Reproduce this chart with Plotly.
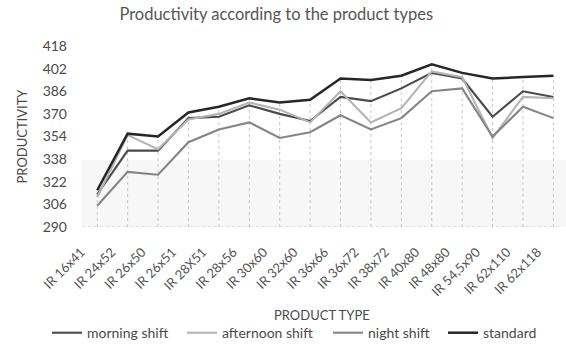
import plotly.graph_objects as go

# Product types along the horizontal axis
products = ["IR 16x41", "IR 24x52", "IR 26x50", "IR 26x51", "IR 28X51", "IR 28x56",
            "IR 30x60", "IR 32x60", "IR 36x66", "IR 36x72", "IR 38x72", "IR 40x80",
            "IR 48x80", "IR 54,5x90", "IR 62x110", "IR 62x118"]

# Productivity per shift and the standard
morning_shift = [313, 344, 344, 367, 368, 376, 370, 365, 382, 379, 388, 399, 395, 368, 386, 382]
afternoon_shift = [311, 355, 345, 366, 370, 378, 373, 364, 386, 364, 374, 400, 396, 353, 382, 381]
night_shift = [305, 329, 327, 350, 359, 364, 353, 357, 369, 359, 367, 386, 388, 354, 375, 367]
standard = [316, 356, 354, 371, 375, 381, 378, 380, 395, 394, 397, 405, 399, 395, 396, 397]

y_ticks = [290, 306, 322, 338, 354, 370, 386, 402, 418]

FONT = "Lato"
idx = list(range(len(products)))

fig = go.Figure()

# Drop lines from the highest value of each product down to the axis
drop_x, drop_y = [], []
for i in idx:
    top = max(morning_shift[i], afternoon_shift[i], night_shift[i], standard[i])
    drop_x += [i, i, None]
    drop_y += [y_ticks[0], top, None]
fig.add_trace(go.Scatter(x=drop_x, y=drop_y, mode="lines",
                         line=dict(color="#c8c8c8", width=1, dash="dot"),
                         showlegend=False, hoverinfo="skip"))

# One legend per series so the entries are spaced along the bottom
series = [
    ("morning shift", morning_shift, "#4a4a4a", 2.1, "legend", 47),
    ("afternoon shift", afternoon_shift, "#b4b4b4", 2.1, "legend2", 182),
    ("night shift", night_shift, "#858585", 2.1, "legend3", 328),
    ("standard", standard, "#262626", 2.5, "legend4", 443),
]
legend_layout = {}
for name, vals, color, w, leg, lx in series:
    fig.add_trace(go.Scatter(x=idx, y=vals, mode="lines", name=name,
                             line=dict(color=color, width=w), legend=leg))
    legend_layout[leg] = dict(orientation="h", x=lx / 566, xref="container", xanchor="left",
                              y=0.04, yref="container", yanchor="middle",
                              font=dict(family=FONT, size=14, color="#4a4a4a"),
                              itemwidth=30, bgcolor="rgba(0,0,0,0)")

fig.update_layout(
    width=566, height=347,
    margin=dict(l=82, r=5, t=46, b=120),
    paper_bgcolor="white", plot_bgcolor="white",
    font=dict(family=FONT, color="#4a4a4a", size=12),
    title=dict(text="Productivity according to the product types",
               x=0.488, xref="container", y=0.96, yref="container",
               xanchor="center", yanchor="middle",
               font=dict(family=FONT, size=16.5, color="#555555")),
    showlegend=True,
    **legend_layout,
)

# Faint grey band across the lower part of the plotting area
fig.add_shape(type="rect", xref="paper", yref="paper", x0=0, x1=1.02, y0=0, y1=0.37,
              fillcolor="#f7f7f7", line=dict(width=0), layer="below")

# Category axis title placed below the rotated tick labels
fig.add_annotation(text="PRODUCT TYPE", xref="paper", yref="paper", x=0.5, y=-0.486,
                   xanchor="center", yanchor="middle", showarrow=False,
                   font=dict(family=FONT, size=13, color="#4a4a4a"))

fig.update_xaxes(
    range=[-0.5, 15.25], automargin=False,
    tickvals=idx, ticktext=products, tickangle=-45,
    tickfont=dict(family=FONT, size=13, color="#555555"),
    ticklabelshift=-16, ticklabelstandoff=14,
    showgrid=False, zeroline=False, showline=False, ticks="",
)
fig.update_yaxes(
    range=[290, 418], tickvals=y_ticks, automargin=False,
    tickfont=dict(family=FONT, size=14, color="#4a4a4a"),
    ticklabelstandoff=14,
    showgrid=False, zeroline=False, showline=False, ticks="",
    title=dict(text="PRODUCTIVITY", font=dict(family=FONT, size=13, color="#4a4a4a"),
               standoff=12),
)

# Dashed baseline along the category axis
fig.add_hline(y=y_ticks[0], line=dict(color="#c8c8c8", width=1, dash="dot"))

fig.write_html("out.html")
